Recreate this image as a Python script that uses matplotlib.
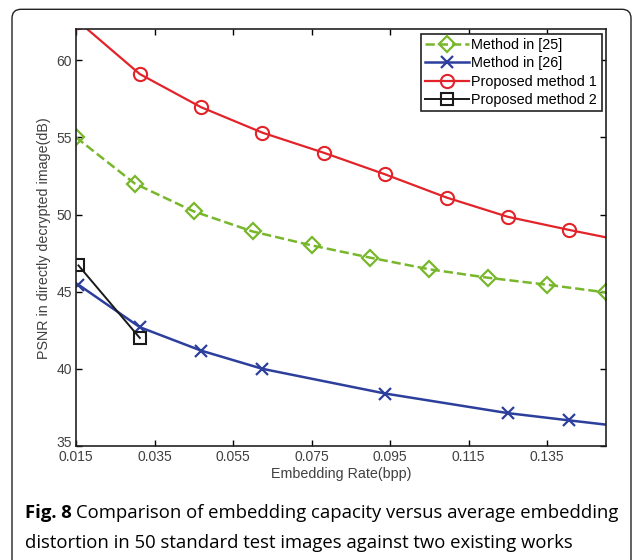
import matplotlib.pyplot as plt
from matplotlib.patches import FancyBboxPatch
from matplotlib.transforms import IdentityTransform, ScaledTranslation

# data
rate_25 = [0.015, 0.030, 0.045, 0.060, 0.075, 0.090, 0.105, 0.120, 0.135, 0.150]
psnr_25 = [55.0, 52.0, 50.2, 48.9, 48.0, 47.2, 46.45, 45.9, 45.45, 44.95]

rate_26 = [0.015625, 0.03125, 0.046875, 0.0625, 0.09375, 0.125, 0.140625, 0.15625]
psnr_26 = [45.45, 42.7, 41.18, 40.0, 38.4, 37.13, 36.66, 36.2]

rate_p1 = [0.015625, 0.03125, 0.046875, 0.0625, 0.078125, 0.09375, 0.109375,
           0.125, 0.140625, 0.15625]
psnr_p1 = [62.5, 59.1, 56.95, 55.3, 54.0, 52.6, 51.1, 49.85, 49.0, 48.2]

rate_p2 = [0.015625, 0.03125]
psnr_p2 = [46.7, 42.0]

x_ticks = [0.015, 0.035, 0.055, 0.075, 0.095, 0.115, 0.135]
y_ticks = [35, 40, 45, 50, 55, 60]

plt.rcParams['font.family'] = ['Liberation Sans', 'DejaVu Sans']

fig = plt.figure(figsize=(6.33, 5.6), dpi=100)
ax = fig.add_axes([76 / 633, 1 - 446 / 560, (606 - 76) / 633, (446 - 29.3) / 560])

ax.plot(rate_25, psnr_25, '--', color='#78b72b', lw=1.8, marker='D', ms=8.5,
        mfc='none', mew=1.6, label='Method in [25]')
ax.plot(rate_26, psnr_26, '-', color='#2d3f9c', lw=1.8, marker='x', ms=8,
        mew=1.6, label='Method in [26]')
ax.plot(rate_p1, psnr_p1, '-', color='#e3232a', lw=1.6, marker='o', ms=9.5,
        mfc='none', mew=1.5, label='Proposed method 1')
ax.plot(rate_p2, psnr_p2, '-', color='#1a1a1a', lw=1.4, marker='s', ms=8.5,
        mfc='none', mew=1.5, label='Proposed method 2')

ax.set_xlim(0.015, 0.15)
ax.set_ylim(35, 62)
ax.set_xticks(x_ticks)
ax.set_xticklabels([f'{t:.3f}' for t in x_ticks])
ax.set_yticks(y_ticks)
ax.tick_params(direction='in', top=True, right=True, length=4, width=1,
               labelsize=10, labelcolor='#404040', pad=3)
for s in ax.spines.values():
    s.set_linewidth(1.2)
    s.set_color('#222222')

# lift the lowest y label a bit so it sits above 0.015, like MATLAB does
lab35 = ax.get_yticklabels()[0]
lab35.set_transform(lab35.get_transform() + ScaledTranslation(0, 5 / 100, fig.dpi_scale_trans))

ax.set_xlabel('Embedding Rate(bpp)', fontsize=10.3, color='#404040', labelpad=2)
ax.set_ylabel('PSNR in directly decrypted image(dB)', fontsize=10.3,
              color='#404040', labelpad=4)

leg = ax.legend(loc='upper right', fontsize=10.4, handlelength=3.0,
                labelspacing=0.3, borderpad=0.3, borderaxespad=0.3,
                handletextpad=0.2, fancybox=False, framealpha=1)
leg.get_frame().set_edgecolor('#222222')
leg.get_frame().set_linewidth(1.2)

# rounded frame around the figure panel
frame = FancyBboxPatch((12, -20), 619, 560 - 9.3 + 20,
                       boxstyle='round,pad=0,rounding_size=9',
                       transform=IdentityTransform(), fill=False,
                       edgecolor='#222222', lw=1.0)
fig.add_artist(frame)

cap_font = ['Open Sans', 'DejaVu Sans']
t1 = fig.text(25 / 633, 1 - 518 / 560, 'Fig. 8', fontsize=13.3,
              fontweight='bold', family=cap_font, va='baseline')
ax.annotate('Comparison of embedding capacity versus average embedding',
            xy=(1, 0), xycoords=t1, xytext=(3, 0), textcoords='offset points',
            fontsize=13.3, family=cap_font, va='bottom', ha='left',
            annotation_clip=False)
fig.text(25 / 633, 1 - 548 / 560,
         'distortion in 50 standard test images against two existing works',
         fontsize=13.3, family=cap_font, va='baseline')

fig.savefig('out.png', dpi=100)
